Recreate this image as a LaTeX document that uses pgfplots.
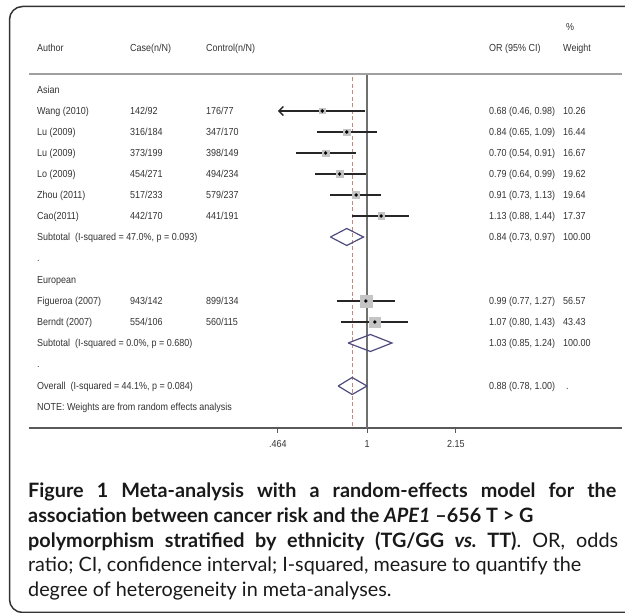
\documentclass[border=0pt]{standalone}
\usepackage{pgfplots}
\pgfplotsset{compat=1.18}
\usepackage{pgfplotstable}
\usepackage{fontspec}
\setmainfont{Liberation Sans}
\newfontfamily\plotfont[FakeStretch=0.88]{Liberation Sans}
\newfontfamily\capfont{Lato}
\usetikzlibrary{arrows.meta}

\definecolor{txt}{HTML}{333333}
\definecolor{boxg}{HTML}{C4C4C4}
\definecolor{dia}{HTML}{4E4C7E}
\definecolor{refred}{HTML}{C4887C}
\definecolor{vline}{HTML}{707070}
\definecolor{hline}{HTML}{A0A0A0}

% y = 613 - pixel row
\pgfplotstableread{
y   or   lo   hi   w
502 0.68 0.46 0.98 10.26
481 0.84 0.65 1.09 16.44
460 0.70 0.54 0.91 16.67
439 0.79 0.64 0.99 19.62
418 0.91 0.73 1.13 19.64
397 1.13 0.88 1.44 17.37
312 0.99 0.77 1.27 56.57
291 1.07 0.80 1.43 43.43
}\studies

\newcommand\T[3]{\node[anchor=base west,inner sep=0pt,font=\plotfont\fontsize{10.2}{11}\selectfont,text=txt] at (#1pt,{(609.4-#2)*1pt}) {#3};}
\newcommand\C[2]{\node[anchor=base west,inner sep=0pt,font=\capfont\fontsize{19.8}{22}\selectfont,text=black!90] at (28pt,{(613-#1)*1pt}) {#2};}

\begin{document}
\begin{tikzpicture}
\useasboundingbox (0pt,0pt) rectangle (625pt,613pt);
\clip (0pt,0pt) rectangle (625pt,613pt);
\draw[line width=1.5pt, black!80, rounded corners=13pt] (9.5pt,0.5pt) rectangle (640pt,606.5pt);

\begin{axis}[
  at={(29pt,185pt)}, anchor=south west,
  scale only axis, width=593pt, height=354pt,
  xmode=log, xmin=0.05427, xmax=9.009,
  ymin=185, ymax=539,
  axis x line=bottom, axis y line=none,
  axis line style={-, line width=1.1pt, black!65},
  xtick={0.464,1,2.15}, xticklabels={.464,1,2.15},
  minor xtick={},
  tick align=outside, major tick length=5pt,
  tick style={line width=0.9pt, black!65},
  /pgf/number format/assume math mode=true,
  xticklabel style={font=\plotfont\fontsize{10.2}{11}\selectfont, text=txt, inner sep=0pt, yshift=-7pt},
  clip=false,
]
% reference lines
\addplot[line width=1.1pt, vline] coordinates {(1,185) (1,539)};
\addplot[line width=0.9pt, refred, dash pattern=on 4pt off 2.5pt] coordinates {(0.88,187) (0.88,539)};
% weight boxes (area proportional to weight)
\addplot[scatter, only marks, mark=square*, draw=boxg, fill=boxg,
  mark options={draw=boxg, fill=boxg},
  scatter/use mapped color={draw=boxg, fill=boxg},
  visualization depends on={0.8*sqrt(\thisrow{w}) \as \msize},
  scatter/@pre marker code/.append style={/tikz/mark size=\msize}]
  table[x=or, y=y] {\studies};
% Wang: truncated CI with arrow
\addplot[line width=1.3pt, black!85, -{Straight Barb[length=4.5pt,width=9pt]}] coordinates {(0.98,502) (0.464,502)};
% CIs and points
\addplot[only marks, mark=*, mark size=1.5pt, black,
  skip coords between index={0}{1},
  error bars/.cd, x dir=both, x explicit, error mark=none,
  error bar style={line width=1.3pt, black!85}]
  table[x=or, y=y, x error plus expr=\thisrow{hi}-\thisrow{or}, x error minus expr=\thisrow{or}-\thisrow{lo}] {\studies};
\addplot[only marks, mark=*, mark size=1.5pt, black] coordinates {(0.68,502)};
% pooled diamonds
\addplot[line width=1.2pt, dia, line join=miter] coordinates {(0.73,376) (0.84,384.5) (0.97,376) (0.84,367.5) (0.73,376)};
\addplot[line width=1.2pt, dia, line join=miter] coordinates {(0.85,270) (1.03,278.5) (1.24,270) (1.03,261.5) (0.85,270)};
\addplot[line width=1.2pt, dia, line join=miter] coordinates {(0.78,227) (0.88,235.5) (1.00,227) (0.88,218.5) (0.78,227)};
\end{axis}

% header rule
\draw[line width=1.1pt, hline] (29pt,539pt) -- (622pt,539pt);

% header
\T{566}{27}{\%}
\T{37}{48}{Author}
\T{130}{48}{Case(n/N)}
\T{206}{48}{Control(n/N)}
\T{489}{48}{OR (95\% CI)}
\T{563}{48}{Weight}

% rows
\T{37}{90}{Asian}
\T{37}{111}{Wang (2010)}   \T{130}{111}{142/92}  \T{206}{111}{176/77}  \T{489}{111}{0.68 (0.46, 0.98)} \T{563}{111}{10.26}
\T{37}{132}{Lu (2009)}     \T{130}{132}{316/184} \T{206}{132}{347/170} \T{489}{132}{0.84 (0.65, 1.09)} \T{563}{132}{16.44}
\T{37}{153}{Lu (2009)}     \T{130}{153}{373/199} \T{206}{153}{398/149} \T{489}{153}{0.70 (0.54, 0.91)} \T{563}{153}{16.67}
\T{37}{174}{Lo (2009)}     \T{130}{174}{454/271} \T{206}{174}{494/234} \T{489}{174}{0.79 (0.64, 0.99)} \T{563}{174}{19.62}
\T{37}{195}{Zhou (2011)}   \T{130}{195}{517/233} \T{206}{195}{579/237} \T{489}{195}{0.91 (0.73, 1.13)} \T{563}{195}{19.64}
\T{37}{216}{Cao(2011)}     \T{130}{216}{442/170} \T{206}{216}{441/191} \T{489}{216}{1.13 (0.88, 1.44)} \T{563}{216}{17.37}
\T{37}{237}{Subtotal\ \ (I-squared = 47.0\%, p = 0.093)} \T{489}{237}{0.84 (0.73, 0.97)} \T{563}{237}{100.00}
\T{37}{258}{.}
\T{37}{280}{European}
\T{37}{301}{Figueroa (2007)} \T{130}{301}{943/142} \T{206}{301}{899/134} \T{489}{301}{0.99 (0.77, 1.27)} \T{563}{301}{56.57}
\T{37}{322}{Berndt (2007)}   \T{130}{322}{554/106} \T{206}{322}{560/115} \T{489}{322}{1.07 (0.80, 1.43)} \T{563}{322}{43.43}
\T{37}{343}{Subtotal\ \ (I-squared = 0.0\%, p = 0.680)} \T{489}{343}{1.03 (0.85, 1.24)} \T{563}{343}{100.00}
\T{37}{364}{.}
\T{37}{386}{Overall\ \ (I-squared = 44.1\%, p = 0.084)} \T{489}{386}{0.88 (0.78, 1.00)} \T{566}{386}{.}
\T{37}{407}{NOTE: Weights are from random effects analysis}

% caption
\C{497.5}{\makebox[588pt][s]{\bfseries Figure 1 Meta-analysis with a random-effects model for the}}
\C{522.5}{\bfseries association between cancer risk and the \textit{APE1} –656 T > G}
\C{547.5}{\makebox[590pt][s]{{\bfseries polymorphism stratified by ethnicity (TG/GG \textit{vs.}\ TT)}. OR, odds}}
\C{571.5}{ratio; CI, confidence interval; I-squared, measure to quantify the}
\C{596.5}{degree of heterogeneity in meta-analyses.}
\end{tikzpicture}
\end{document}
